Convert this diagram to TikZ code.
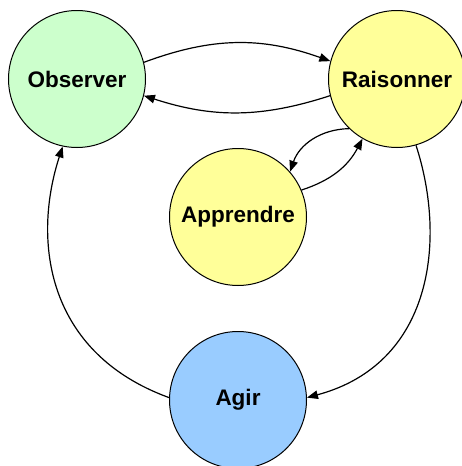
\documentclass[tikz,border=0pt]{standalone}
\usepackage{fontspec}
\setmainfont{Liberation Sans}
\usetikzlibrary{arrows.meta}
\definecolor{obsgreen}{HTML}{CCFFCC}
\definecolor{raiyellow}{HTML}{FFFF99}
\definecolor{agirblue}{HTML}{99CCFF}
\begin{document}
\begin{tikzpicture}[x=1pt,y=1pt,
  state/.style={circle,draw=black,line width=1pt,minimum size=137pt,inner sep=0pt,
    font=\fontsize{22.5}{26}\selectfont\bfseries},
  link/.style={line width=1.2pt,-{Triangle[length=11pt,width=8.5pt]}}]
\useasboundingbox (0,0) rectangle (462,-466);
\node[state,fill=obsgreen] (obs) at (77,-79) {Observer};
\node[state,fill=raiyellow] (rai) at (397,-79) {Raisonner};
\node[state,fill=raiyellow] (app) at (238,-217) {Apprendre};
\node[state,fill=agirblue] (agir) at (238,-400) {Agir};
\draw[link] (obs.14) to[bend left=20] (rai.165);
\draw[link] (rai.194) to[bend left=18] (obs.-14);
\draw[link] (rai.226) to[bend right=35] (app.41);
\draw[link] (app.23) to[bend right=22] (rai.240);
\draw[link] (rai.-74) .. controls +(-72:100) and +(15:130) .. (agir.2);
\draw[link] (agir.178) .. controls +(160:130) and +(-108:100) .. (obs.-102);
\end{tikzpicture}
\end{document}
